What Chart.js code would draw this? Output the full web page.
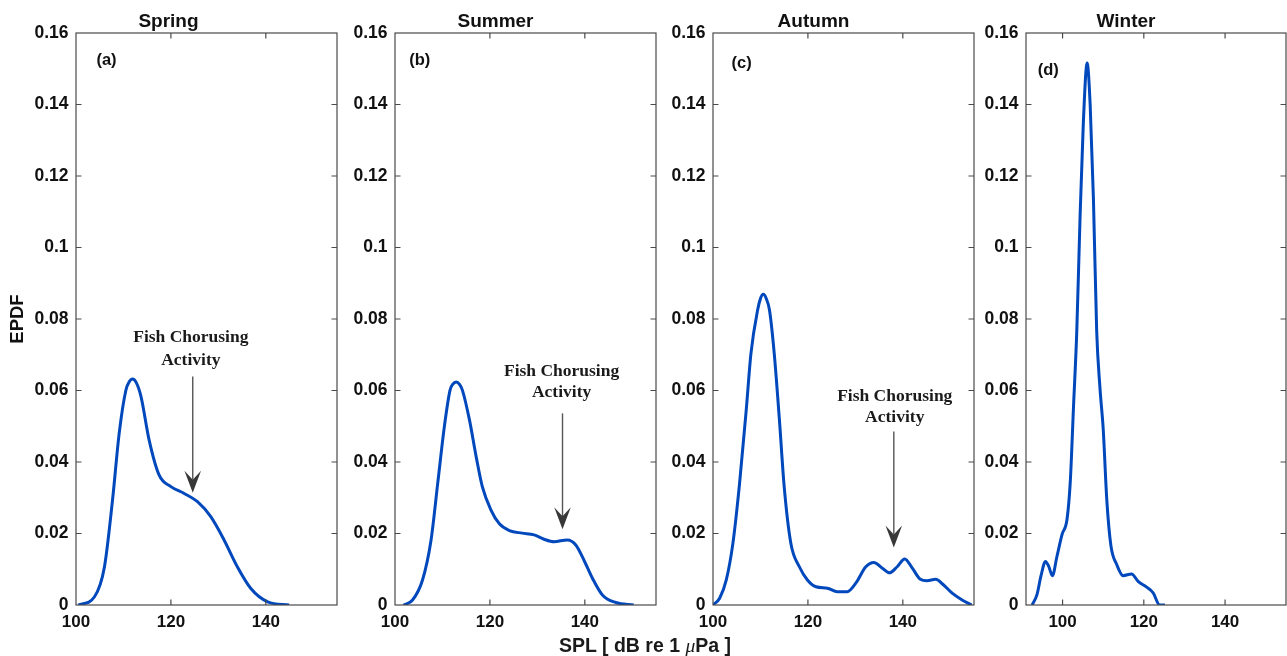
<!DOCTYPE html>
<html>
<head>
<meta charset="utf-8">
<title>EPDF of SPL by season</title>
<script src="https://cdn.jsdelivr.net/npm/chart.js@4.4.1/dist/chart.umd.min.js"></script>
<style>
  html, body { margin: 0; padding: 0; background: #fff; }
  body { width: 1287px; height: 656px; position: relative; overflow: hidden; }
  canvas { position: absolute; top: 0; }
  #xlabel {
    position: absolute; left: 545px; top: 635px; width: 200px;
    text-align: center; white-space: nowrap;
    font: bold 19.5px "Liberation Sans", Arial, sans-serif; line-height: 19.5px; color: #1a1a1a;
  }
  #xlabel i { font: italic 19.5px "Liberation Serif", "Times New Roman", serif; }
</style>
</head>
<body>
<canvas id="spring"></canvas>
<canvas id="summer"></canvas>
<canvas id="autumn"></canvas>
<canvas id="winter"></canvas>
<div id="xlabel">SPL [ dB re 1 <i>μ</i>Pa ]</div>

<script>
// Kernel density estimates of sound pressure level (dB re 1 µPa), one per season.
const springX = [100.5, 103.9, 106.0, 107.7, 109.1, 110.5, 111.2, 111.9, 112.7, 113.7, 115.4, 117.5, 120.0, 122.8, 125.6, 128.4, 131.2, 134.0, 136.8, 140.4, 144.9];
const springY = [0, 0.0023, 0.0107, 0.0294, 0.048, 0.060, 0.0624, 0.0632, 0.0622, 0.0583, 0.0462, 0.0364, 0.0331, 0.0312, 0.0289, 0.0247, 0.0182, 0.0107, 0.0047, 0.0009, 0];

const summerX = [101.8, 103.7, 105.8, 107.6, 109.0, 110.4, 111.6, 112.2, 112.9, 113.6, 114.2, 115.7, 117.1, 118.4, 120.2, 122.0, 124.1, 126.8, 129.3, 131.4, 133.5, 136.3, 138.1, 139.8, 141.6, 143.7, 146.5, 150.3];
const summerY = [0, 0.0014, 0.0070, 0.0182, 0.034, 0.0499, 0.0601, 0.0618, 0.0624, 0.0617, 0.0601, 0.0517, 0.0415, 0.0331, 0.0266, 0.0227, 0.0208, 0.0201, 0.0196, 0.0184, 0.0177, 0.0182, 0.0168, 0.0126, 0.0075, 0.0028, 0.0007, 0];

const autumnX = [100.0, 101.4, 102.8, 104.2, 105.6, 107.0, 108.0, 109.4, 110.0, 110.6, 111.2, 111.9, 112.9, 114.0, 115.0, 116.4, 118.2, 119.9, 121.7, 124.1, 126.2, 128.3, 130.1, 132.2, 133.9, 135.7, 137.2, 138.8, 140.4, 142.0, 143.7, 145.1, 146.9, 148.6, 150.4, 152.5, 154.5];
const autumnY = [0, 0.0019, 0.0070, 0.0173, 0.034, 0.0545, 0.0704, 0.0825, 0.0857, 0.0869, 0.0858, 0.0825, 0.0704, 0.0517, 0.0331, 0.0173, 0.0107, 0.0070, 0.0051, 0.0047, 0.0037, 0.0037, 0.0061, 0.0107, 0.0119, 0.0103, 0.0090, 0.0107, 0.0129, 0.0103, 0.0072, 0.0068, 0.0072, 0.0056, 0.0033, 0.0014, 0];

const winterX = [92.5, 93.7, 94.7, 95.8, 96.6, 97.5, 98.6, 99.9, 101.1, 101.9, 102.7, 103.5, 104.3, 105.1, 106.05, 106.8, 107.6, 108.4, 109.2, 110.0, 110.9, 111.9, 113.3, 114.9, 117.0, 118.6, 120.7, 122.3, 123.9, 125.2];
const winterY = [0, 0.0029, 0.0082, 0.0122, 0.0108, 0.0082, 0.0135, 0.0198, 0.0240, 0.0345, 0.0556, 0.0766, 0.1082, 0.1345, 0.1516, 0.1398, 0.1135, 0.0766, 0.0608, 0.0493, 0.0292, 0.0166, 0.0114, 0.0082, 0.0087, 0.0066, 0.0050, 0.0034, 0, 0];

// Axis ticks shared by all four panels
const xTicks = [100, 120, 140];
const xTickLabels = ['100', '120', '140'];
const yTicks = [0, 0.02, 0.04, 0.06, 0.08, 0.1, 0.12, 0.14, 0.16];
const yTickLabels = ['0', '0.02', '0.04', '0.06', '0.08', '0.1', '0.12', '0.14', '0.16'];

const titles = ['Spring', 'Summer', 'Autumn', 'Winter'];
const letters = ['(a)', '(b)', '(c)', '(d)'];
const noteLines = ['Fish Chorusing', 'Activity'];

const BLUE = '#0048bc';
const INK = '#111';
const FRAME = '#4a4a4a';
const SANS = '"Liberation Sans", Arial, sans-serif';
const SERIF = '"Liberation Serif", "Times New Roman", serif';

const CANVAS_H = 645;

const panels = [
  { id: 'spring', xs: springX, ys: springY, xMin: 100, xMax: 155, left: 0,   axisW: 76, plotW: 261, yTitle: true,
    letter: { x: 104.3, y: 0.1522 },
    note: { textX: 124.2, textY: [0.0747, 0.0685], arrowX: 124.6, from: 0.0639, to: 0.0314 } },
  { id: 'summer', xs: summerX, ys: summerY, xMin: 100, xMax: 155, left: 335, axisW: 60, plotW: 261,
    letter: { x: 103.0, y: 0.1522 },
    note: { textX: 135.1, textY: [0.0653, 0.0595], arrowX: 135.3, from: 0.0536, to: 0.0212 } },
  { id: 'autumn', xs: autumnX, ys: autumnY, xMin: 100, xMax: 155, left: 653, axisW: 60, plotW: 261,
    letter: { x: 103.9, y: 0.1514 },
    note: { textX: 138.3, textY: [0.0583, 0.0525], arrowX: 138.1, from: 0.0485, to: 0.0161 } },
  { id: 'winter', xs: winterX, ys: winterY, xMin: 91, xMax: 155, left: 966, axisW: 60, plotW: 260,
    letter: { x: 93.9, y: 0.1495 },
    note: null }
];

// Box around the plot area with inward ticks on all four sides
const framePlugin = {
  id: 'frame',
  afterDraw(chart) {
    const { ctx, chartArea: a, scales: { x, y } } = chart;
    const t = 5.5;
    ctx.save();
    ctx.strokeStyle = FRAME;
    ctx.lineWidth = 1.2;
    ctx.strokeRect(a.left, a.top, a.right - a.left, a.bottom - a.top);
    ctx.beginPath();
    xTicks.forEach(v => {
      const px = x.getPixelForValue(v);
      if (px <= a.left + 1 || px >= a.right - 1) return;
      ctx.moveTo(px, a.bottom); ctx.lineTo(px, a.bottom - t);
      ctx.moveTo(px, a.top); ctx.lineTo(px, a.top + t);
    });
    yTicks.forEach(v => {
      const py = y.getPixelForValue(v);
      if (py <= a.top + 1 || py >= a.bottom - 1) return;
      ctx.moveTo(a.left, py); ctx.lineTo(a.left + t, py);
      ctx.moveTo(a.right, py); ctx.lineTo(a.right - t, py);
    });
    ctx.stroke();
    ctx.restore();
  }
};

// Panel letter and the "Fish Chorusing Activity" callout with its arrow
const notesPlugin = {
  id: 'notes',
  afterDraw(chart, args, opts) {
    const { ctx, scales: { x, y } } = chart;
    ctx.save();
    ctx.fillStyle = INK;
    ctx.font = 'bold 16.5px ' + SANS;
    ctx.textAlign = 'left';
    ctx.textBaseline = 'middle';
    ctx.fillText(opts.letterText, x.getPixelForValue(opts.letter.x), y.getPixelForValue(opts.letter.y));

    const n = opts.note;
    if (n) {
      ctx.font = 'bold 17.5px ' + SERIF;
      ctx.textAlign = 'center';
      ctx.fillStyle = '#1a1a1a';
      noteLines.forEach((s, i) => ctx.fillText(s, x.getPixelForValue(n.textX), y.getPixelForValue(n.textY[i])));

      const ax = x.getPixelForValue(n.arrowX);
      const y0 = y.getPixelForValue(n.from);
      const y1 = y.getPixelForValue(n.to);
      const hw = 8.3, hh = 22, notch = 13;
      ctx.strokeStyle = '#555';
      ctx.lineWidth = 1.4;
      ctx.beginPath();
      ctx.moveTo(ax, y0);
      ctx.lineTo(ax, y1 - notch);
      ctx.stroke();
      ctx.fillStyle = '#383838';
      ctx.beginPath();
      ctx.moveTo(ax, y1);
      ctx.lineTo(ax + hw, y1 - hh);
      ctx.lineTo(ax, y1 - notch);
      ctx.lineTo(ax - hw, y1 - hh);
      ctx.closePath();
      ctx.fill();
    }
    ctx.restore();
  }
};

panels.forEach((p, k) => {
  const canvas = document.getElementById(p.id);
  const w = p.axisW + p.plotW + 1;
  canvas.width = w;
  canvas.height = CANVAS_H;
  canvas.style.left = p.left + 'px';
  canvas.style.width = w + 'px';
  canvas.style.height = CANVAS_H + 'px';

  new Chart(canvas.getContext('2d'), {
    type: 'line',
    data: {
      datasets: [{
        data: p.xs.map((v, i) => ({ x: v, y: p.ys[i] })),
        borderColor: BLUE,
        borderWidth: 3,
        pointRadius: 0,
        fill: false,
        cubicInterpolationMode: 'monotone'
      }]
    },
    options: {
      responsive: false,
      animation: false,
      events: [],
      layout: { padding: { left: 0, right: 1, top: 0, bottom: 0 } },
      plugins: {
        legend: { display: false },
        tooltip: { enabled: false },
        title: {
          display: true,
          text: titles[k],
          color: INK,
          font: { family: SANS, size: 19, weight: 'bold', lineHeight: 1.2 },
          padding: { top: 10, bottom: 0.2 }
        },
        notes: { letterText: letters[k], letter: p.letter, note: p.note }
      },
      scales: {
        x: {
          type: 'linear',
          min: p.xMin,
          max: p.xMax,
          afterBuildTicks: s => { s.ticks = xTicks.map(v => ({ value: v })); },
          afterFit: s => { s.height = CANVAS_H - 605; },
          grid: { display: false, drawTicks: false },
          border: { display: false },
          ticks: {
            color: INK,
            padding: 7,
            maxRotation: 0,
            autoSkip: false,
            font: { family: SANS, size: 17, weight: 'bold' },
            callback: (v, i) => xTickLabels[i]
          }
        },
        y: {
          type: 'linear',
          min: 0,
          max: 0.16,
          afterBuildTicks: s => { s.ticks = yTicks.map(v => ({ value: v })); },
          afterFit: s => { s.width = p.axisW; },
          grid: { display: false, drawTicks: false },
          border: { display: false },
          title: {
            display: !!p.yTitle,
            text: 'EPDF',
            color: INK,
            font: { family: SANS, size: 18.5, weight: 'bold', lineHeight: 1.2 },
            padding: { top: 7, bottom: 0 }
          },
          ticks: {
            color: INK,
            padding: 7.5,
            autoSkip: false,
            font: { family: SANS, size: 17.5, weight: 'bold' },
            callback: (v, i) => yTickLabels[i]
          }
        }
      }
    },
    plugins: [framePlugin, notesPlugin]
  });
});
</script>
</body>
</html>
